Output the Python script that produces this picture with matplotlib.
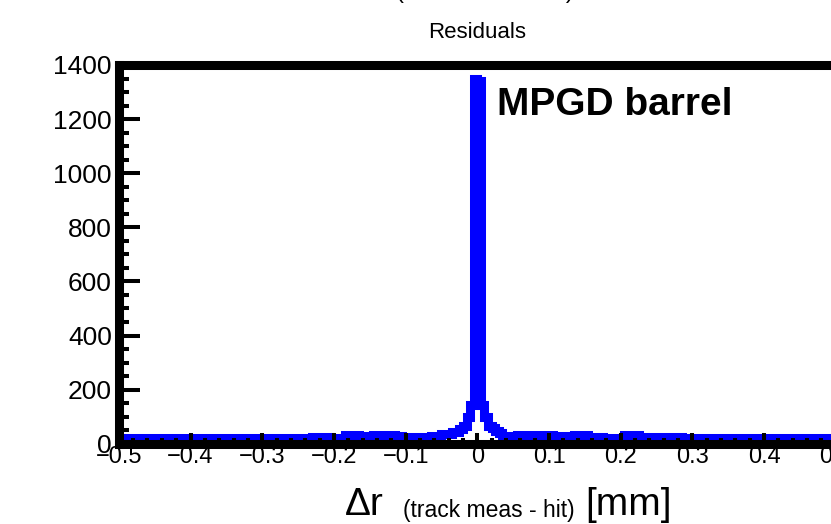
import numpy as np
import matplotlib
matplotlib.use('Agg')
import matplotlib.pyplot as plt
from matplotlib.ticker import MultipleLocator

plt.rcParams['font.family'] = ['Liberation Sans', 'DejaVu Sans']
plt.rcParams['axes.unicode_minus'] = True

# Residual histogram: 200 bins of 0.005 mm between -0.5 and 0.5 mm
bin_edges = np.linspace(-0.5, 0.5, 201)
counts = [
    22, 22, 22, 22, 22, 22, 22, 22, 22, 22,
    22, 22, 22, 22, 22, 22, 22, 22, 22, 22,
    22, 22, 22, 22, 22, 22, 22, 22, 22, 22,
    22, 22, 22, 22, 22, 22, 22, 22, 22, 22,
    22, 22, 22, 22, 22, 22, 22, 22, 22, 22,
    22, 22, 22, 22, 24, 24, 24, 24, 24, 22,
    22, 22, 22, 34, 34, 34, 34, 30, 30, 30,
    30, 34, 34, 34, 34, 34, 34, 30, 30, 26,
    26, 24, 24, 24, 24, 24, 24, 30, 30, 30,
    36, 36, 36, 45, 45, 55, 65, 98, 143, 1350,
    1342, 143, 98, 65, 58, 47, 40, 28, 28, 28,
    28, 32, 32, 32, 34, 34, 34, 34, 34, 32,
    32, 28, 28, 28, 28, 28, 28, 34, 34, 34,
    34, 26, 26, 26, 26, 22, 22, 22, 22, 22,
    22, 32, 32, 32, 32, 24, 24, 24, 24, 24,
    24, 24, 24, 24, 24, 24, 24, 22, 22, 22,
    22, 22, 22, 22, 22, 22, 22, 22, 22, 22,
    22, 22, 22, 22, 22, 22, 22, 22, 22, 22,
    22, 22, 22, 22, 22, 22, 22, 22, 22, 22,
    22, 22, 22, 22, 22, 22, 22, 22, 22, 22,
]
x_ticks = [-0.5, -0.4, -0.3, -0.2, -0.1, 0.0, 0.1, 0.2, 0.3, 0.4, 0.5]
x_labels = ['\u22120.5', '\u22120.4', '\u22120.3', '\u22120.2', '\u22120.1',
            '0', '0.1', '0.2', '0.3', '0.4', '0.5']

W, H = 831, 524
fig = plt.figure(figsize=(W / 100, H / 100), dpi=100)
# frame runs past the right edge of the canvas, as in the original
ax = fig.add_axes([118.8 / W, 1 - 443.7 / H, 717 / W, (443.7 - 65) / H])

ax.stairs(counts, bin_edges, color='#0000ff', linewidth=6.5,
          joinstyle='miter', capstyle='projecting')

ax.set_xlim(-0.5, 0.5)
ax.set_ylim(0, 1400)

for side in ['left', 'bottom', 'top', 'right']:
    ax.spines[side].set_linewidth(6.5)
    ax.spines[side].set_color('black')

ax.set_xticks(x_ticks)
ax.set_xticklabels(x_labels)
ax.xaxis.set_minor_locator(MultipleLocator(0.02))
ax.yaxis.set_major_locator(MultipleLocator(200))
ax.yaxis.set_minor_locator(MultipleLocator(50))

ax.tick_params(axis='both', which='both', direction='in', top=False, right=False)
ax.tick_params(axis='y', which='major', length=15, width=2.9, labelsize=19, pad=5)
ax.tick_params(axis='y', which='minor', length=7.2, width=2.9)
ax.tick_params(axis='x', which='major', length=7.6, width=2.9, labelsize=17, pad=2)
ax.tick_params(axis='x', which='minor', length=4, width=2.9)

# titles and labels
fig.text(477.3 / W, 1 - 33 / H, 'Residuals', ha='center', va='center', fontsize=16)
fig.text(485 / W, 1 + 2 / H, '(track meas - hit)', ha='center', va='baseline', fontsize=17)
fig.text(497 / W, 1 - 115 / H, 'MPGD barrel', ha='left', va='baseline',
         fontsize=28, fontweight='bold')

fig.text(345 / W, 1 - 515 / H, '\u0394r', ha='left', va='baseline', fontsize=28)
fig.text(403 / W, 1 - 517 / H, '(track meas - hit)', ha='left', va='baseline', fontsize=16.5)
fig.text(585 / W, 1 - 515 / H, '[mm]', ha='left', va='baseline', fontsize=28)

fig.savefig('out.png', dpi=100)
